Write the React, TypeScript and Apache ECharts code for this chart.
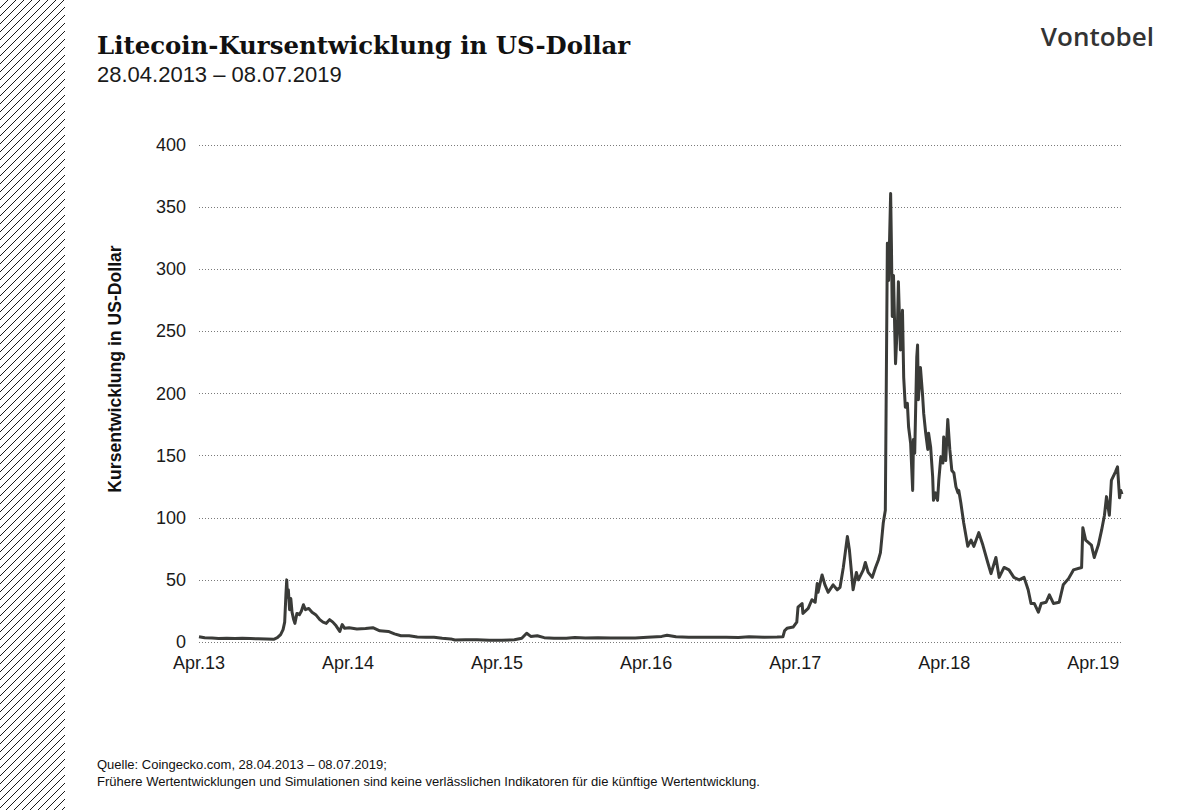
import React, { useEffect, useRef } from "react";
import * as echarts from "echarts";

const START_DATE = "2013-04-28";
const END_DATE = "2019-07-08";

const dates: string[] = [
  "2013-04-28","2013-05-12","2013-05-30","2013-06-15","2013-07-05","2013-07-25","2013-08-12","2013-09-01","2013-09-20","2013-10-10",
  "2013-10-28","2013-11-06","2013-11-14","2013-11-20","2013-11-24","2013-11-27","2013-11-29","2013-12-01","2013-12-03","2013-12-06",
  "2013-12-09","2013-12-12","2013-12-16","2013-12-19","2013-12-24","2013-12-30","2014-01-04","2014-01-09","2014-01-14","2014-01-22",
  "2014-01-30","2014-02-08","2014-02-18","2014-02-26","2014-03-06","2014-03-14","2014-03-22","2014-03-30","2014-04-08","2014-04-14",
  "2014-04-20","2014-05-01","2014-05-20","2014-06-10","2014-06-28","2014-07-15","2014-08-05","2014-08-20","2014-09-05","2014-09-25",
  "2014-10-15","2014-11-05","2014-11-25","2014-12-15","2015-01-05","2015-01-15","2015-02-10","2015-03-10","2015-04-10","2015-05-10",
  "2015-06-10","2015-06-28","2015-07-10","2015-07-20","2015-08-05","2015-08-22","2015-09-15","2015-10-15","2015-11-05","2015-12-01",
  "2016-01-01","2016-02-01","2016-03-01","2016-04-01","2016-05-01","2016-06-05","2016-06-18","2016-07-10","2016-08-10","2016-09-10",
  "2016-10-10","2016-11-10","2016-12-10","2017-01-05","2017-02-10","2017-03-15","2017-03-29","2017-04-02","2017-04-08","2017-04-23",
  "2017-05-02","2017-05-05","2017-05-15","2017-05-17","2017-05-30","2017-06-08","2017-06-16","2017-06-21","2017-06-23","2017-07-03",
  "2017-07-10","2017-07-18","2017-07-30","2017-08-09","2017-08-16","2017-08-24","2017-09-03","2017-09-08","2017-09-17","2017-09-25",
  "2017-09-30","2017-10-12","2017-10-17","2017-10-24","2017-11-03","2017-11-11","2017-11-18","2017-11-23","2017-11-30","2017-12-05",
  "2017-12-10","2017-12-13","2017-12-18","2017-12-20","2017-12-22","2017-12-25","2017-12-30","2018-01-04","2018-01-06","2018-01-11",
  "2018-01-16","2018-01-19","2018-01-23","2018-01-28","2018-01-31","2018-02-05","2018-02-10","2018-02-12","2018-02-15","2018-02-20",
  "2018-02-22","2018-02-24","2018-03-01","2018-03-06","2018-03-09","2018-03-14","2018-03-19","2018-03-21","2018-03-26","2018-03-31",
  "2018-04-02","2018-04-07","2018-04-12","2018-04-15","2018-04-20","2018-04-25","2018-04-27","2018-05-02","2018-05-07","2018-05-12",
  "2018-05-17","2018-05-22","2018-05-27","2018-06-01","2018-06-03","2018-06-08","2018-06-15","2018-06-25","2018-07-03","2018-07-10",
  "2018-07-22","2018-08-01","2018-08-13","2018-08-21","2018-09-02","2018-09-10","2018-09-22","2018-10-04","2018-10-16","2018-10-29",
  "2018-11-10","2018-11-20","2018-11-27","2018-12-05","2018-12-15","2018-12-22","2019-01-03","2019-01-11","2019-01-21","2019-02-04",
  "2019-02-14","2019-02-27","2019-03-11","2019-03-31","2019-04-03","2019-04-10","2019-04-17","2019-04-24","2019-05-01","2019-05-11",
  "2019-05-19","2019-05-26","2019-05-31","2019-06-07","2019-06-12","2019-06-22","2019-06-27","2019-07-02","2019-07-05","2019-07-08",
];

const prices: number[] = [
  4.3,3.4,3.2,2.9,3.0,2.8,3.0,2.8,2.6,2.4,
  2.2,3.5,6,10,16,38,50,36,42,26,
  35,24,18,15,23,22,25,30,26,27,
  24,22,18,16,15,18,16,13,8.5,14,
  11,11.5,10.5,10.8,11.5,9,8.5,6.5,5,5,
  4,3.8,3.8,3,2.5,1.6,1.8,1.8,1.5,1.5,
  1.8,3,7,4.5,5,3.5,3,3,3.6,3.2,
  3.5,3.2,3.2,3.2,3.8,4.5,5.5,4.2,3.8,3.9,
  3.9,3.9,3.7,4.2,3.9,4,4.2,9,11,12,
  16,28,31,23,27,34,32,47,40,54,
  46,40,46,42,44,60,85,74,42,56,
  50,58,64,56,52,60,66,72,96,106,
  321,291,361,318,262,295,224,259,290,235,
  267,213,189,192,173,160,122,163,152,229,
  239,195,221,200,184,168,155,168,157,133,
  114,120,114,130,149,144,165,146,179,155,
  138,136,125,120,122,112,96,77,82,77,
  88,78,64,55,68,52,60,58,52,50,
  52,42,31,31,24,31,32,38,31,32,
  46,51,58,60,92,82,80,78,68,78,
  90,102,117,102,130,137,141,116,122,119,
];

const yTicks: number[] = [0, 50, 100, 150, 200, 250, 300, 350, 400];
const xTickYears: string[] = ["13", "14", "15", "16", "17", "18", "19"];

const TITLE = "Litecoin-Kursentwicklung in US-Dollar";
const SUBTITLE = "28.04.2013 \u2013 08.07.2019";
const Y_NAME = "Kursentwicklung in US-Dollar";
const SOURCE_1 = "Quelle: Coingecko.com, 28.04.2013 \u2013 08.07.2019;";
const SOURCE_2 =
  "Frühere Wertentwicklungen und Simulationen sind keine verlässlichen Indikatoren für die künftige Wertentwicklung.";
const LOGO = "Vontobel";

const YEAR_MS = 365.25 * 86400000;
const toYears = (d: string) => (Date.parse(d) - Date.parse(START_DATE)) / YEAR_MS;

export default function App() {
  const ref = useRef<HTMLDivElement>(null);

  useEffect(() => {
    if (!ref.current) return;
    const chart = echarts.init(ref.current, undefined, { renderer: "svg" });

    const W = 1187;
    const H = 810;
    const hatchW = 65;
    const hatch: any[] = [];
    for (let c = 0; c <= H + hatchW; c += 8) {
      const xa = Math.max(0, c - H);
      const xb = Math.min(hatchW, c);
      if (xb <= xa) continue;
      hatch.push({
        type: "line",
        silent: true,
        shape: { x1: xa, y1: c - xa, x2: xb, y2: c - xb },
        style: { stroke: "#1a1a1a", lineWidth: 1 },
      });
    }

    const seriesData = dates.map((d, i) => [toYears(d), prices[i]]);
    const xMax = toYears(END_DATE);

    const option: any = {
      animation: false,
      backgroundColor: "#ffffff",
      grid: { left: 199, right: W - 1122, top: 145, bottom: H - 642, containLabel: false },
      xAxis: {
        type: "value",
        min: 0,
        max: xMax,
        interval: 1,
        axisLine: { show: false },
        axisTick: { show: false },
        splitLine: { show: false },
        axisLabel: {
          showMaxLabel: false,
          margin: 12,
          fontSize: 18,
          color: "#1a1a1a",
          fontFamily: "Liberation Sans, Arial, sans-serif",
          formatter: (v: number) => {
            const k = Math.round(v);
            if (Math.abs(v - k) > 1e-6 || k < 0 || k >= xTickYears.length) return "";
            return "Apr." + xTickYears[k];
          },
        },
      },
      yAxis: {
        type: "value",
        min: yTicks[0],
        max: yTicks[yTicks.length - 1],
        interval: yTicks[1] - yTicks[0],
        axisLine: { show: false },
        axisTick: { show: false },
        axisLabel: {
          margin: 13,
          fontSize: 18,
          color: "#1a1a1a",
          fontFamily: "Liberation Sans, Arial, sans-serif",
        },
        splitLine: { show: true, lineStyle: { color: "#7a7a7a", type: [1, 2], width: 1 } },
      },
      series: [
        {
          type: "line",
          data: seriesData,
          showSymbol: false,
          symbol: "none",
          lineStyle: { color: "#3a3b38", width: 3, join: "round" },
          z: 3,
        },
      ],
      graphic: [
        ...hatch,
        {
          type: "text",
          left: 97,
          top: 33,
          style: {
            text: TITLE,
            fontFamily: "DejaVu Serif, serif",
            fontWeight: "bold",
            fontSize: 24.4,
            fill: "#111111",
          },
        },
        {
          type: "text",
          left: 97,
          top: 63,
          style: {
            text: SUBTITLE,
            fontFamily: "Liberation Sans, Arial, sans-serif",
            fontSize: 22,
            fill: "#1a1a1a",
          },
        },
        {
          type: "text",
          right: W - 1154,
          top: 23,
          style: {
            text: LOGO,
            fontFamily: "Open Sans, sans-serif",
            fontWeight: 600,
            fontSize: 26,
            fill: "#333333",
          },
        },
        {
          type: "text",
          x: 115,
          y: 369,
          rotation: Math.PI / 2,
          style: {
            text: Y_NAME,
            fontFamily: "Liberation Sans, Arial, sans-serif",
            fontWeight: "bold",
            fontSize: 17.6,
            fill: "#111111",
            align: "center",
            verticalAlign: "middle",
          },
        },
        {
          type: "text",
          left: 97,
          top: 758,
          style: {
            text: SOURCE_1,
            fontFamily: "Liberation Sans, Arial, sans-serif",
            fontSize: 13,
            fill: "#111111",
          },
        },
        {
          type: "text",
          left: 97,
          top: 775,
          style: {
            text: SOURCE_2,
            fontFamily: "Liberation Sans, Arial, sans-serif",
            fontSize: 13,
            fill: "#111111",
          },
        },
      ],
    };

    chart.setOption(option);
    return () => chart.dispose();
  }, []);

  return (
    <div
      ref={ref}
      style={{ position: "absolute", left: 0, top: 0, width: 1187, height: 810, background: "#fff" }}
    />
  );
}
